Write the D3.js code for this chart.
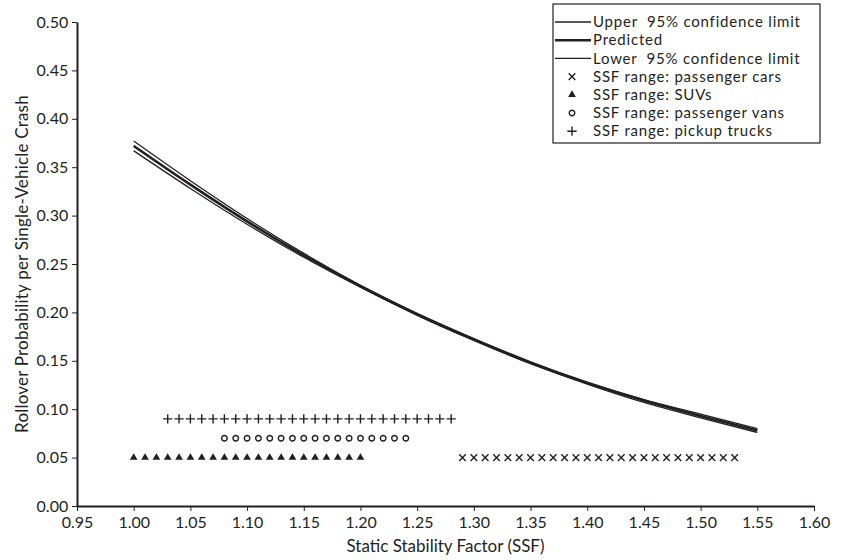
<!DOCTYPE html>
<html>
<head>
<meta charset="utf-8">
<script src="https://cdn.jsdelivr.net/npm/d3@7"></script>
<style>
  body { margin: 0; background: #fff; }
  text { font-family: Lato, "Open Sans", sans-serif; fill: #231f20; }
</style>
</head>
<body>
<div id="plot"></div>
<script>
// values

  const ssf = [1.00, 1.05, 1.10, 1.15, 1.20, 1.25, 1.30, 1.35, 1.40, 1.45, 1.50, 1.55];
  const upper = [0.377, 0.336, 0.297, 0.261, 0.228, 0.199, 0.173, 0.149, 0.128, 0.110, 0.095, 0.080];
  const predicted = [0.372, 0.332, 0.294, 0.259, 0.227, 0.198, 0.172, 0.148, 0.127, 0.109, 0.093, 0.078];
  const lower = [0.367, 0.328, 0.291, 0.257, 0.226, 0.197, 0.171, 0.147, 0.126, 0.107, 0.091, 0.076];

  const carsSSF = [1.29, 1.30, 1.31, 1.32, 1.33, 1.34, 1.35, 1.36, 1.37, 1.38, 1.39, 1.40, 1.41,
                   1.42, 1.43, 1.44, 1.45, 1.46, 1.47, 1.48, 1.49, 1.50, 1.51, 1.52, 1.53];
  const suvSSF = [1.00, 1.01, 1.02, 1.03, 1.04, 1.05, 1.06, 1.07, 1.08, 1.09, 1.10,
                  1.11, 1.12, 1.13, 1.14, 1.15, 1.16, 1.17, 1.18, 1.19, 1.20];
  const vanSSF = [1.08, 1.09, 1.10, 1.11, 1.12, 1.13, 1.14, 1.15, 1.16,
                  1.17, 1.18, 1.19, 1.20, 1.21, 1.22, 1.23, 1.24];
  const pickupSSF = [1.03, 1.04, 1.05, 1.06, 1.07, 1.08, 1.09, 1.10, 1.11, 1.12, 1.13, 1.14, 1.15,
                     1.16, 1.17, 1.18, 1.19, 1.20, 1.21, 1.22, 1.23, 1.24, 1.25, 1.26, 1.27, 1.28];
  const rowLevel = {cars: 0.05, suv: 0.05, van: 0.07, pickup: 0.09};

  const xTicks = [0.95, 1.00, 1.05, 1.10, 1.15, 1.20, 1.25, 1.30, 1.35, 1.40, 1.45, 1.50, 1.55, 1.60];
  const yTicks = [0, 0.05, 0.10, 0.15, 0.20, 0.25, 0.30, 0.35, 0.40, 0.45, 0.50];

  const legendLabels = ["Upper  95% confidence limit", "Predicted", "Lower  95% confidence limit",
                        "SSF range: passenger cars", "SSF range: SUVs",
                        "SSF range: passenger vans", "SSF range: pickup trucks"];

  const w = 843;
  const h = 560;
  const margin = {top: 22, right: 29, bottom: 54, left: 77};
  const innerWidth = w - margin.left - margin.right;
  const innerHeight = h - margin.top - margin.bottom;
  const ink = "#231f20";

  const svg = d3.select("div#plot")
      .append("svg")
      .attr("width", w)
      .attr("height", h)
      .style("display", "block");

  const g = svg.append("g")
      .attr("transform", `translate(${margin.left}, ${margin.top})`);

  const xScale = d3.scaleLinear()
      .domain([0.95, 1.60])
      .range([0, innerWidth]);

  const yScale = d3.scaleLinear()
      .domain([0, 0.50])
      .range([innerHeight, 0]);

  const xAxis = d3.axisBottom(xScale)
      .tickValues(xTicks)
      .tickFormat(d3.format(".2f"))
      .tickSize(5)
      .tickSizeOuter(0);

  const yAxis = d3.axisLeft(yScale)
      .tickValues(yTicks)
      .tickFormat(d3.format(".2f"))
      .tickSize(5)
      .tickSizeOuter(0);

  const gx = g.append("g")
      .attr("class", "xAxis")
      .attr("transform", `translate(0, ${innerHeight})`)
      .call(xAxis);

  const gy = g.append("g")
      .attr("class", "yAxis")
      .call(yAxis);

  [gx, gy].forEach(a => {
    a.select(".domain").attr("stroke", ink).attr("stroke-width", 2);
    a.selectAll(".tick line").attr("stroke", ink).attr("stroke-width", 1);
    a.selectAll(".tick text").attr("font-size", 16).attr("fill", ink)
        .style("font-family", "Lato, 'Open Sans', sans-serif");
  });
  gx.selectAll(".tick text").attr("dy", "0.85em");
  gy.selectAll(".tick text").attr("dx", "-0.05em");

  svg.append("text")
      .attr("x", margin.left + innerWidth / 2)
      .attr("y", 552)
      .attr("text-anchor", "middle")
      .attr("font-size", 17)
      .text("Static Stability Factor (SSF)");

  svg.append("text")
      .attr("transform", `translate(28, ${margin.top + innerHeight / 2}) rotate(-90)`)
      .attr("text-anchor", "middle")
      .attr("font-size", 17)
      .attr("letter-spacing", 0.2)
      .text("Rollover Probability per Single-Vehicle Crash");

// curves

  const line = d3.line()
      .x((d, i) => xScale(ssf[i]))
      .y(d => yScale(d))
      .curve(d3.curveMonotoneX);

  const curves = [
    {vals: upper, width: 1.3},
    {vals: predicted, width: 2.6},
    {vals: lower, width: 1.3}
  ];

  g.selectAll("path.curve")
    .data(curves)
    .enter().append("path")
      .attr("class", "curve")
      .attr("d", d => line(d.vals))
      .attr("fill", "none")
      .attr("stroke", ink)
      .attr("stroke-width", d => d.width);

// SSF range markers

  const rows = [
    {vals: carsSSF, level: rowLevel.cars, type: d3.symbolX, size: 30, fill: false},
    {vals: suvSSF, level: rowLevel.suv, type: d3.symbolTriangle, size: 26, fill: true},
    {vals: vanSSF, level: rowLevel.van, type: d3.symbolCircle, size: 24, fill: false},
    {vals: pickupSSF, level: rowLevel.pickup, type: d3.symbolPlus, size: 30, fill: false}
  ];

  rows.forEach(r => {
    g.append("g").selectAll("path")
      .data(r.vals)
      .enter().append("path")
        .attr("transform", d => `translate(${xScale(d)}, ${yScale(r.level)})`)
        .attr("d", d3.symbol().type(r.type).size(r.size))
        .attr("fill", r.fill ? ink : "none")
        .attr("stroke", ink)
        .attr("stroke-width", r.fill ? 0 : 1.4);
  });

// legend

  const legend = svg.append("g")
      .attr("transform", "translate(553, 4)");

  legend.append("rect")
      .attr("width", 267)
      .attr("height", 139)
      .attr("fill", "#fff")
      .attr("stroke", ink)
      .attr("stroke-width", 1.2);

  const rowH = 18.2;
  const items = legend.selectAll("g.item")
    .data(legendLabels)
    .enter().append("g")
      .attr("class", "item")
      .attr("transform", (d, i) => `translate(0, ${18 + i * rowH})`);

  items.append("text")
      .attr("x", 40)
      .attr("y", 0)
      .attr("dy", "0.35em")
      .attr("font-size", 15)
      .attr("letter-spacing", 0.8)
      .style("white-space", "pre")
      .text(d => d);

  items.filter((d, i) => i < 3)
    .append("line")
      .attr("x1", 2)
      .attr("x2", 38)
      .attr("stroke", ink)
      .attr("stroke-width", (d, i) => i === 1 ? 2.6 : 1.3);

  items.filter((d, i) => i >= 3)
    .append("path")
      .attr("transform", "translate(19, 0)")
      .attr("d", (d, i) => d3.symbol().type(rows[i].type).size(rows[i].size)())
      .attr("fill", (d, i) => rows[i].fill ? ink : "none")
      .attr("stroke", ink)
      .attr("stroke-width", (d, i) => rows[i].fill ? 0 : 1.4);
</script>
</body>
</html>
